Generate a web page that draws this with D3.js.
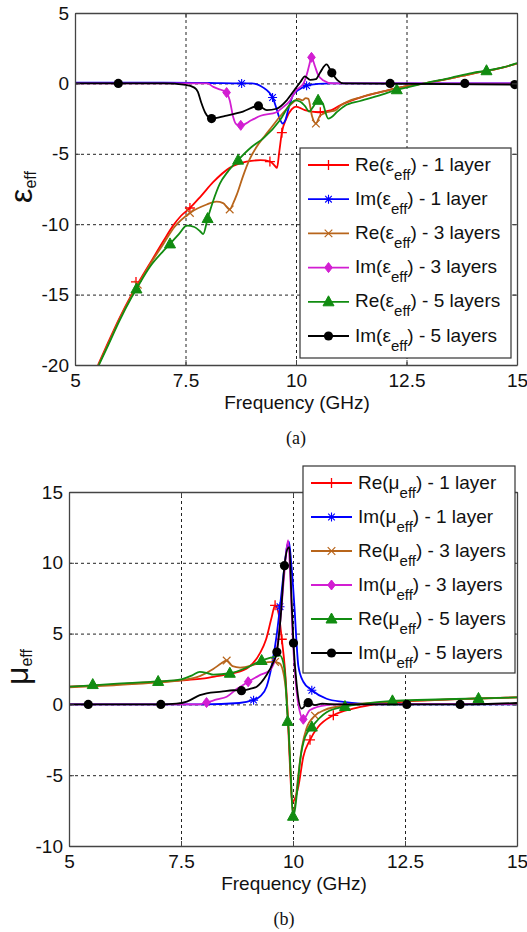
<!DOCTYPE html>
<html><head><meta charset="utf-8">
<script src="https://cdn.jsdelivr.net/npm/d3@7"></script>
<style>body{margin:0;background:#fff;} svg{display:block;} text{fill:#111;}</style>
</head><body><svg id="c" width="527" height="932" font-family="Arial, 'Liberation Sans', sans-serif"></svg>
<script>
// ---------- shared ----------
const freqTicks = [5, 7.5, 10, 12.5, 15];
const freqGrid = [7.5, 10, 12.5];
const epsTicks = [5, 0, -5, -10, -15, -20];
const epsGrid = [0, -5, -10, -15];
const muTicks = [15, 10, 5, 0, -5, -10];
const muGrid = [10, 5, 0, -5];
const legendKind = ["Re", "Im", "Re", "Im", "Re", "Im"];
const legendLayers = ["1 layer", "1 layer", "3 layers", "3 layers", "5 layers", "5 layers"];

// ---------- panel (a): effective permittivity, [GHz, value] ----------
const reEps1 = [[5.52,-20],[5.75,-18.4],[6.0,-16.7],[6.28,-15.0],[6.5,-13.8],[6.75,-12.5],[7.0,-11.2],[7.22,-10.1],[7.4,-9.4],[7.6,-8.85],[7.85,-8.0],[8.13,-7.0],[8.5,-6.0],[8.88,-5.56],[9.2,-5.45],[9.42,-5.55],[9.52,-5.85],[9.57,-6.0],[9.62,-4.9],[9.68,-3.5],[9.78,-2.5],[9.9,-1.85],[10.0,-1.65],[10.2,-1.9],[10.5,-2.05],[10.8,-1.9],[11.0,-1.55],[11.5,-0.95],[12.0,-0.55],[12.5,-0.2],[12.9,0.0],[13.5,0.35],[14.0,0.7],[14.5,1.0],[15.0,1.4]];
const imEps1 = [[5,0.06],[6,0.05],[7,0.05],[8,0.03],[8.77,0.0],[9.0,0.0],[9.15,-0.1],[9.26,-0.3],[9.38,-0.6],[9.47,-1.0],[9.56,-1.8],[9.63,-2.5],[9.7,-2.85],[9.76,-2.6],[9.83,-1.8],[9.94,-0.8],[10.09,-0.4],[10.24,-0.16],[10.5,-0.03],[10.8,0],[15,0]];
const reEps3 = [[5.53,-20],[5.75,-18.5],[6.0,-16.8],[6.28,-15.1],[6.5,-13.9],[6.75,-12.6],[7.0,-11.4],[7.25,-10.2],[7.6,-9.2],[7.98,-8.6],[8.2,-8.4],[8.35,-8.5],[8.5,-8.95],[8.58,-8.5],[8.66,-7.9],[8.8,-6.6],[8.95,-5.4],[9.11,-4.5],[9.3,-3.7],[9.45,-3.1],[9.65,-2.3],[9.79,-1.8],[9.95,-1.3],[10.05,-1.1],[10.15,-1.2],[10.22,-1.05],[10.28,-1.1],[10.36,-2.3],[10.45,-2.85],[10.54,-2.3],[10.7,-2.05],[10.9,-1.9],[11.0,-1.6],[11.5,-0.95],[12.0,-0.55],[12.5,-0.2],[12.9,0.0],[13.5,0.35],[14,0.7],[14.5,1.0],[15,1.4]];
const imEps3 = [[5,0],[8.0,0],[8.13,-0.25],[8.3,-0.45],[8.43,-0.65],[8.5,-1.2],[8.58,-2.4],[8.65,-2.9],[8.75,-2.98],[9.0,-2.6],[9.2,-2.3],[9.56,-2.05],[9.7,-1.7],[9.86,-1.25],[10.0,-0.5],[10.17,0.0],[10.25,0.7],[10.3,1.3],[10.35,1.85],[10.42,1.3],[10.5,0.6],[10.6,0.25],[10.84,0.0],[15,0]];
const reEps5 = [[5.54,-20],[5.75,-18.6],[6.0,-16.9],[6.28,-15.2],[6.39,-14.6],[6.7,-13.0],[7.0,-11.9],[7.15,-11.4],[7.35,-10.7],[7.53,-10.1],[7.7,-10.2],[7.83,-10.5],[7.9,-10.7],[8.0,-9.6],[8.12,-8.4],[8.28,-7.1],[8.45,-6.3],[8.69,-5.45],[9.0,-4.5],[9.26,-3.9],[9.64,-2.6],[9.86,-1.5],[9.98,-1.2],[10.1,-1.3],[10.2,-1.6],[10.3,-2.0],[10.38,-1.7],[10.5,-1.2],[10.6,-1.4],[10.73,-2.5],[10.8,-2.4],[10.92,-2.05],[11.1,-1.6],[11.45,-1.25],[12.0,-0.75],[12.28,-0.45],[12.5,-0.3],[12.9,0.0],[13.5,0.4],[14.0,0.75],[14.31,0.9],[14.7,1.15],[15,1.45]];
const imEps5 = [[5,0],[6.0,0],[7.0,0],[7.5,-0.1],[7.7,-0.3],[7.78,-0.6],[7.85,-1.3],[7.95,-2.1],[8.09,-2.5],[8.4,-2.3],[8.8,-2.0],[9.15,-1.6],[9.34,-1.9],[9.56,-1.8],[9.79,-1.2],[9.98,-0.4],[10.1,0.1],[10.2,0.5],[10.32,0.25],[10.45,0.3],[10.55,0.8],[10.69,1.35],[10.81,0.75],[10.95,0.2],[11.07,0.0],[15,-0.08]];
// marker positions
const reEps1Mk = [[6.38,-14.1],[7.6,-8.85],[9.41,-5.55],[9.68,-3.5],[10.55,-2.05]];
const imEps1Mk = [[8.77,0],[9.47,-1.0],[10.24,-0.16]];
const reEps3Mk = [[6.42,-14.3],[7.6,-9.2],[8.5,-8.95],[10.45,-2.85]];
const imEps3Mk = [[8.43,-0.65],[8.75,-2.98],[10.35,1.85]];
const reEps5Mk = [[6.39,-14.6],[7.15,-11.4],[8.0,-9.6],[8.69,-5.45],[10.5,-1.2],[12.28,-0.45],[14.31,0.9]];
const imEps5Mk = [[5.98,0],[8.09,-2.5],[9.15,-1.6],[10.81,0.75],[12.13,0],[13.82,0],[14.95,-0.08]];

// ---------- panel (b): effective permeability ----------
const reMu1 = [[5,1.25],[6,1.4],[7,1.6],[7.5,1.7],[7.92,1.8],[8.3,2.0],[8.67,2.2],[9.0,2.6],[9.26,3.6],[9.4,4.6],[9.52,6.1],[9.6,7.0],[9.68,6.4],[9.75,4.6],[9.82,2.5],[9.87,0.0],[9.93,-4.2],[9.98,-6.9],[10.05,-6.6],[10.12,-5.8],[10.23,-3.7],[10.38,-2.5],[10.56,-1.6],[10.9,-0.77],[11.34,-0.3],[11.72,-0.05],[12.5,0.2],[13.5,0.35],[14.5,0.45],[15,0.5]];
const imMu1 = [[5,0],[8,0],[8.8,0.1],[9.1,0.3],[9.26,0.55],[9.41,1.25],[9.52,2.66],[9.64,5.0],[9.71,6.9],[9.8,9.5],[9.87,11.2],[9.91,11.5],[9.96,10.0],[10.04,6.5],[10.08,4.3],[10.12,2.7],[10.23,1.6],[10.42,1.0],[10.75,0.4],[11.12,0.18],[11.5,0.05],[12,0],[15,0]];
const reMu3 = [[5,1.2],[6,1.35],[7,1.55],[7.5,1.7],[7.92,2.0],[8.22,2.5],[8.4,2.9],[8.52,3.1],[8.65,2.7],[8.82,2.6],[9.26,2.9],[9.56,3.0],[9.7,2.9],[9.8,2.0],[9.88,-0.5],[9.95,-5.0],[9.99,-7.6],[10.04,-7.2],[10.1,-5.5],[10.2,-3.0],[10.3,-1.7],[10.49,-0.8],[10.7,-0.4],[11.2,-0.05],[12,0.15],[13,0.3],[14,0.4],[15,0.5]];
const imMu3 = [[5,0],[7.9,0],[8.07,0.13],[8.3,0.35],[8.52,0.54],[8.75,1.1],[9.0,1.6],[9.26,2.07],[9.49,2.43],[9.62,3.5],[9.72,6.0],[9.8,9.0],[9.89,11.6],[9.94,9.0],[9.99,5.0],[10.05,2.0],[10.12,0.0],[10.23,-1.05],[10.38,-0.4],[10.75,-0.05],[11,0],[15,0.02]];
const reMu5 = [[5,1.25],[5.53,1.35],[6.0,1.45],[6.99,1.62],[7.5,1.77],[7.75,2.05],[7.92,2.3],[8.1,2.2],[8.22,2.1],[8.59,2.2],[8.97,2.6],[9.3,3.1],[9.5,3.3],[9.71,3.45],[9.78,3.0],[9.83,1.8],[9.87,-0.5],[9.9,-1.7],[9.95,-5.0],[10.0,-7.9],[10.04,-7.5],[10.08,-6.5],[10.16,-3.95],[10.27,-2.3],[10.42,-1.6],[10.75,-0.55],[11.16,-0.15],[11.6,0.05],[12.22,0.25],[13,0.33],[14.14,0.42],[15,0.5]];
const imMu5 = [[5,0],[5.43,0],[7.05,0],[7.4,0.05],[7.63,0.2],[7.92,0.65],[8.07,0.78],[8.4,0.9],[8.67,1.0],[8.85,0.97],[9.04,1.1],[9.19,1.25],[9.41,2.07],[9.55,2.9],[9.64,3.7],[9.72,6.0],[9.81,9.8],[9.88,11.0],[9.92,11.1],[9.96,8.0],[10.01,4.33],[10.08,1.47],[10.19,-0.3],[10.34,0.12],[10.49,-0.05],[10.65,0.05],[11,0],[12.54,0],[13.73,0],[15,0.1]];
const reMu1Mk = [[9.6,7.0],[9.75,4.6],[10.38,-2.5],[10.9,-0.77]];
const imMu1Mk = [[9.12,0.3],[9.71,6.9],[10.42,1.0]];
const reMu3Mk = [[8.52,3.1],[9.6,3.0],[10.49,-0.8]];
const imMu3Mk = [[8.07,0.13],[9.0,1.6],[10.23,-1.05]];
const reMu5Mk = [[5.53,1.4],[6.99,1.62],[8.59,2.2],[9.3,3.1],[9.88,-1.2],[10.0,-7.9],[10.42,-1.6],[11.16,-0.15],[12.22,0.25],[14.14,0.42]];
const imMu5Mk = [[5.43,0],[7.05,0],[8.85,0.97],[9.64,3.7],[9.81,9.8],[10.01,4.33],[10.34,0.12],[12.54,0],[13.73,0]];

// ---------- styles ----------
const colors = ["#ff0000", "#0000ff", "#b8651b", "#d21ed2", "#118c11", "#000000"];
const markers = ["plus", "star", "cross", "diamond", "triangle", "circle"];

const svg = d3.select("#c");
svg.append("rect").attr("width", 527).attr("height", 932).attr("fill", "#fff");

function drawMarker(g, type, x, y, color) {
  if (type === "plus") {
    g.append("path").attr("d", `M${x-5},${y}H${x+5}M${x},${y-5}V${y+5}`).attr("stroke", color).attr("stroke-width", 1.3).attr("fill", "none");
  } else if (type === "star") {
    g.append("path").attr("d", `M${x-4.5},${y}H${x+4.5}M${x},${y-4.5}V${y+4.5}M${x-3.3},${y-3.3}L${x+3.3},${y+3.3}M${x-3.3},${y+3.3}L${x+3.3},${y-3.3}`).attr("stroke", color).attr("stroke-width", 1.1).attr("fill", "none");
  } else if (type === "cross") {
    g.append("path").attr("d", `M${x-3.8},${y-3.8}L${x+3.8},${y+3.8}M${x-3.8},${y+3.8}L${x+3.8},${y-3.8}`).attr("stroke", color).attr("stroke-width", 1.2).attr("fill", "none");
  } else if (type === "diamond") {
    g.append("path").attr("d", `M${x},${y-5}L${x+3.8},${y}L${x},${y+5}L${x-3.8},${y}Z`).attr("fill", color).attr("stroke", color);
  } else if (type === "triangle") {
    g.append("path").attr("d", `M${x},${y-6}L${x+5.5},${y+4}L${x-5.5},${y+4}Z`).attr("fill", color).attr("stroke", color);
  } else if (type === "circle") {
    g.append("circle").attr("cx", x).attr("cy", y).attr("r", 4.6).attr("fill", color);
  }
}

function panel(cfg) {
  const x = d3.scaleLinear().domain([5, 15]).range([cfg.left, cfg.right]);
  const y = d3.scaleLinear().domain(cfg.yDomain).range([cfg.bottom, cfg.top]);
  const g = svg.append("g");
  const h = cfg.bottom - cfg.top, w = cfg.right - cfg.left;

  // grid
  const gx = g.append("g").attr("transform", `translate(0,${cfg.bottom})`)
    .call(d3.axisBottom(x).tickValues(freqGrid).tickSize(-h).tickFormat(""));
  const gy = g.append("g").attr("transform", `translate(${cfg.left},0)`)
    .call(d3.axisLeft(y).tickValues(cfg.yGrid).tickSize(-w).tickFormat(""));
  [gx, gy].forEach(a => {
    a.select(".domain").remove();
    a.selectAll(".tick line").attr("stroke", "#222").attr("stroke-dasharray", "3,3").attr("stroke-width", 1);
  });

  // series
  const clipId = "clip" + cfg.id;
  svg.append("clipPath").attr("id", clipId).append("rect")
    .attr("x", cfg.left).attr("y", cfg.top).attr("width", w).attr("height", h);
  const line = d3.line().x(d => x(d[0])).y(d => y(d[1])).curve(d3.curveMonotoneX);
  const sg = g.append("g").attr("clip-path", `url(#${clipId})`);
  cfg.series.forEach((s, i) => {
    sg.append("path").datum(s).attr("d", line).attr("fill", "none")
      .attr("stroke", colors[i]).attr("stroke-width", 1.8).attr("stroke-linejoin", "round");
    cfg.marks[i].forEach(p => drawMarker(sg, markers[i], x(p[0]), y(p[1]), colors[i]));
  });

  // frame with inward ticks
  const frameCol = "#444";
  const axB = g.append("g").attr("transform", `translate(0,${cfg.bottom})`)
    .call(d3.axisBottom(x).tickValues(freqTicks).tickSize(-5).tickSizeOuter(0).tickPadding(8).tickFormat(d3.format("")));
  const axT = g.append("g").attr("transform", `translate(0,${cfg.top})`)
    .call(d3.axisTop(x).tickValues(freqTicks).tickSize(-5).tickSizeOuter(0).tickFormat(""));
  const axL = g.append("g").attr("transform", `translate(${cfg.left},0)`)
    .call(d3.axisLeft(y).tickValues(cfg.yTicks).tickSize(-5).tickSizeOuter(0).tickPadding(6).tickFormat(d3.format("")));
  const axR = g.append("g").attr("transform", `translate(${cfg.right},0)`)
    .call(d3.axisRight(y).tickValues(cfg.yTicks).tickSize(-5).tickSizeOuter(0).tickFormat(""));
  [axB, axT, axL, axR].forEach(a => {
    a.attr("font-family", null).attr("font-size", null);
    a.select(".domain").attr("stroke", frameCol).attr("stroke-width", 1.3);
    a.selectAll(".tick line").attr("stroke", frameCol);
    a.selectAll("text").attr("font-size", 19).attr("fill", "#111");
  });
  axL.selectAll("text").text(d => d < 0 ? "-" + Math.abs(d) : d);
  axB.selectAll("text").attr("dy", "0.72em");

  // axis title
  g.append("text").attr("x", (cfg.left + cfg.right) / 2 + 1).attr("y", cfg.bottom + 44)
    .attr("text-anchor", "middle").attr("font-size", 19).text("Frequency (GHz)");

  // y label
  const yl = g.append("text").attr("transform", `translate(${cfg.yLabelX},${(cfg.top + cfg.bottom) / 2 - 2}) rotate(-90)`)
    .attr("text-anchor", "middle");
  yl.append("tspan").attr("font-size", 32).text(cfg.greek);
  yl.append("tspan").attr("font-size", 16).attr("dy", 4).text("eff");

  // caption
  svg.append("text").attr("x", cfg.capX).attr("y", cfg.bottom + 79).attr("text-anchor", "middle")
    .style("font-family", "'Liberation Serif', 'Times New Roman', serif").attr("font-size", 18).text(cfg.caption);

  // legend
  const L = cfg.legend;
  const lg = svg.append("g");
  lg.append("rect").attr("x", L.x).attr("y", L.y).attr("width", L.w).attr("height", L.h)
    .attr("fill", "#fff").attr("stroke", "#333").attr("stroke-width", 1.2);
  legendKind.forEach((k, i) => {
    const cy = L.y + 17 + i * L.step;
    lg.append("line").attr("x1", L.x + 8).attr("x2", L.x + 49).attr("y1", cy).attr("y2", cy)
      .attr("stroke", colors[i]).attr("stroke-width", 1.8);
    drawMarker(lg, markers[i], L.x + 28.5, cy, colors[i]);
    const t = lg.append("text").attr("x", L.x + 55).attr("y", cy + 5.5).attr("font-size", 19);
    t.append("tspan").text(k + "(" + cfg.greek);
    t.append("tspan").attr("font-size", 15).attr("dy", 9).text("eff");
    t.append("tspan").attr("dy", -9).text(") - " + legendLayers[i]);
  });
}

panel({
  id: "a", left: 75, right: 517, top: 13, bottom: 365,
  yDomain: [-20, 5], yTicks: epsTicks, yGrid: epsGrid, greek: "ε", yLabelX: 32,
  series: [reEps1, imEps1, reEps3, imEps3, reEps5, imEps5],
  marks: [reEps1Mk, imEps1Mk, reEps3Mk, imEps3Mk, reEps5Mk, imEps5Mk],
  caption: "(a)", capX: 296,
  legend: { x: 300, y: 148, w: 211, h: 210, step: 34.2 }
});
panel({
  id: "b", left: 69, right: 517, top: 492, bottom: 846,
  yDomain: [-10, 15], yTicks: muTicks, yGrid: muGrid, greek: "μ", yLabelX: 28,
  series: [reMu1, imMu1, reMu3, imMu3, reMu5, imMu5],
  marks: [reMu1Mk, imMu1Mk, reMu3Mk, imMu3Mk, reMu5Mk, imMu5Mk],
  caption: "(b)", capX: 284,
  legend: { x: 303, y: 466, w: 212, h: 207, step: 34 }
});
</script></body></html>
